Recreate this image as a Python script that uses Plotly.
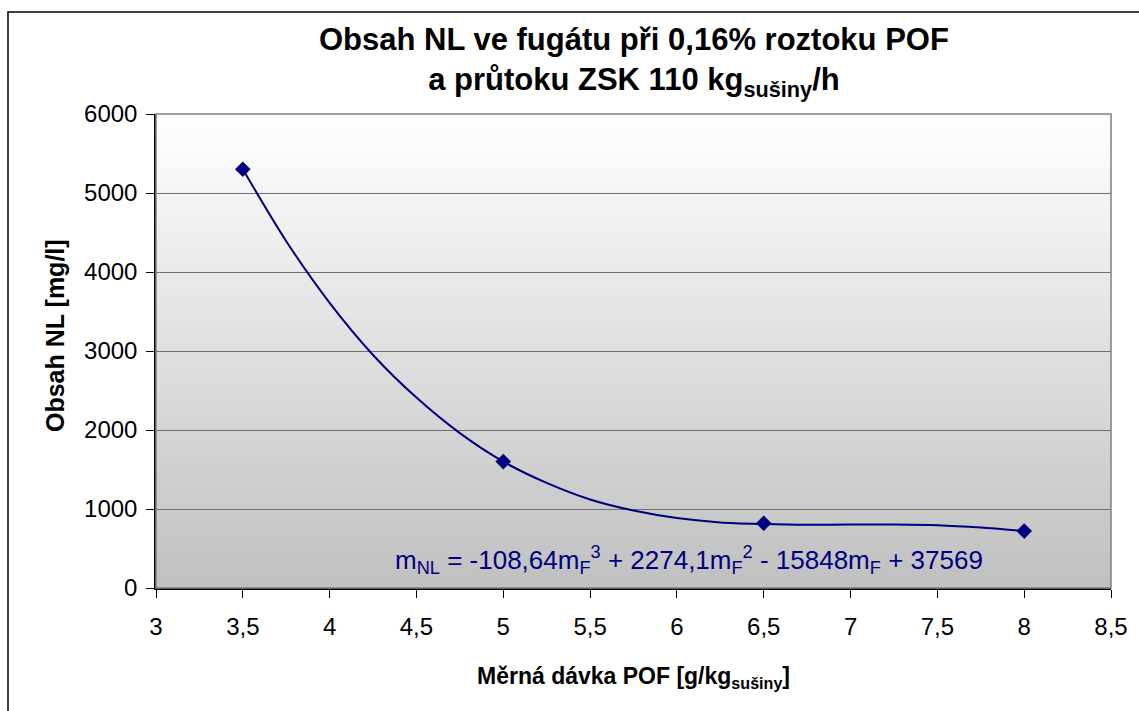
import plotly.graph_objects as go

davka = [3.5, 5.0, 6.5, 8.0]           # Měrná dávka POF [g/kg sušiny]
obsah_nl = [5300, 1600, 820, 720]      # Obsah NL [mg/l]

# Polynomial trendline as drawn in the chart
trend_x = [3.5, 3.75, 4.0, 4.25, 4.5, 4.75, 5.0, 5.25, 5.5, 5.75,
           6.0, 6.25, 6.5, 6.75, 7.0, 7.25, 7.5, 7.75, 8.0]
trend_y = [5300, 4390, 3610, 2950, 2410, 1960, 1600, 1330, 1120, 980,
           885, 830, 810, 800, 803, 803, 795, 765, 720]

x_ticks = [3, 3.5, 4, 4.5, 5, 5.5, 6, 6.5, 7, 7.5, 8, 8.5]
y_ticks = [0, 1000, 2000, 3000, 4000, 5000, 6000]

navy = "#000080"
font = "Liberation Sans, Arial, sans-serif"

# plot-area pixel geometry
L, R, T, B = 156, 1111, 114, 588
W, H = 1139, 711
PW, PH = R - L, B - T

fig = go.Figure()

fig.add_trace(go.Scatter(
    x=trend_x, y=trend_y, mode="lines",
    line=dict(color=navy, width=2, shape="spline", smoothing=0.8),
    hoverinfo="skip", showlegend=False))
fig.add_trace(go.Scatter(
    x=davka, y=obsah_nl, mode="markers",
    marker=dict(symbol="diamond", size=12, color=navy),
    showlegend=False))

# gradient background of plot area (white top -> gray bottom)
n = 80
shapes = []
for i in range(n):
    t = (i + 0.5) / n  # 0 bottom, 1 top
    c0, c1 = 192, 255
    v = int(round(c0 + (c1 - c0) * t))
    col = f"rgb({v},{v},{v})"
    shapes.append(dict(type="rect", xref="x domain", yref="y domain",
                       x0=0, x1=1, y0=i / n, y1=(i + 1) / n + 0.002,
                       fillcolor=col, line=dict(width=0), layer="below"))
# plot area border (gray)
shapes.append(dict(type="rect", xref="x domain", yref="y domain",
                   x0=0, x1=1, y0=0, y1=1, fillcolor="rgba(0,0,0,0)",
                   line=dict(color="#808080", width=1.5), layer="above"))
# chart border
shapes.append(dict(type="rect", xref="paper", yref="paper",
                   x0=(8 - L) / PW, x1=(W + 20 - L) / PW,
                   y0=(B - (H + 20)) / PH, y1=(B - 12) / PH,
                   fillcolor="rgba(0,0,0,0)", line=dict(color="#000000", width=1.5),
                   layer="above"))

fig.update_layout(
    width=W, height=H,
    margin=dict(l=L, r=W - R, t=T, b=H - B),
    paper_bgcolor="white", plot_bgcolor="rgba(0,0,0,0)",
    separators=", ",
    font=dict(family=font, color="black"),
    shapes=shapes,
    xaxis=dict(range=[3, 8.5], tickvals=x_ticks, showgrid=False, zeroline=False,
               showline=True, linecolor="#000000", linewidth=1.5,
               ticks="outside", ticklen=8, tickcolor="#000000",
               ticklabelstandoff=8,
               tickfont=dict(size=24, family=font, color="black")),
    yaxis=dict(range=[0, 6000], tickvals=y_ticks, showgrid=True, gridcolor="#6e6e6e",
               gridwidth=1, zeroline=False,
               showline=True, linecolor="#000000", linewidth=1.5,
               ticks="outside", ticklen=8, tickcolor="#000000",
               ticklabelstandoff=4,
               tickfont=dict(size=24, family=font, color="black")),
    annotations=[
        dict(text="<b>Obsah NL ve fugátu při 0,16% roztoku POF<br>a průtoku ZSK 110 kg<sub>sušiny</sub>/h</b>",
             x=0.5, xref="paper", xanchor="center",
             y=(B - 61.5) / PH, yref="paper", yanchor="middle",
             showarrow=False, font=dict(size=31, family=font, color="black")),
        dict(text="m<sub>NL</sub> = -108,64m<sub>F</sub><sup>3</sup> + 2274,1m<sub>F</sub><sup>2</sup> - 15848m<sub>F</sub> + 37569",
             x=(393 - L) / PW, xref="paper", xanchor="left",
             y=(B - 560) / PH, yref="paper", yanchor="middle",
             showarrow=False, font=dict(size=26, family=font, color=navy)),
        dict(text="<b>Měrná dávka POF [g/kg<sub>sušiny</sub>]</b>",
             x=0.5, xref="paper", xanchor="center",
             y=(B - 677) / PH, yref="paper", yanchor="middle",
             showarrow=False, font=dict(size=23, family=font, color="black")),
        dict(text="<b>Obsah NL [mg/l]</b>", textangle=-90,
             x=(55 - L) / PW, xref="paper", xanchor="center",
             y=(B - 336) / PH, yref="paper", yanchor="middle",
             showarrow=False, font=dict(size=25, family=font, color="black")),
    ],
)

fig.write_html("out.html")
